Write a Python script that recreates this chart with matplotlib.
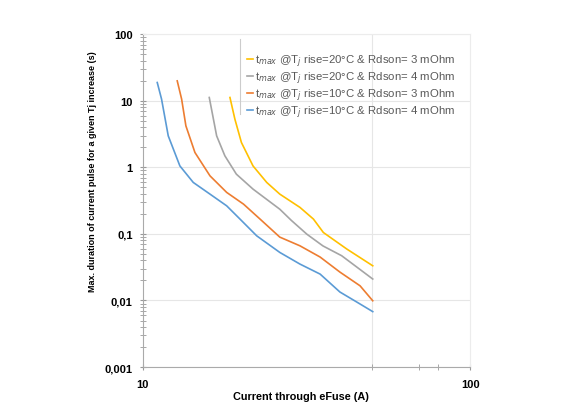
import matplotlib.pyplot as plt
from matplotlib.ticker import FixedLocator, LogLocator, NullFormatter

plt.rcParams['font.family'] = ['Liberation Sans', 'DejaVu Sans']

# current (A) / max pulse duration (s)
x_y20_3 = [18.45, 19.1, 20.0, 21.7, 23.9, 26.2, 30.2, 33.2, 35.6, 42.0, 50.4]
t_y20_3 = [11.2, 5.3, 2.36, 1.05, 0.593, 0.396, 0.25, 0.167, 0.105, 0.0592, 0.0332]

x_g20_4 = [15.95, 16.8, 17.8, 19.3, 21.7, 26.2, 28.4, 31.7, 35.5, 40.5, 50.4]
t_g20_4 = [11.2, 2.97, 1.49, 0.79, 0.471, 0.235, 0.16, 0.099, 0.066, 0.047, 0.021]

x_o10_3 = [12.73, 13.13, 13.53, 14.42, 16.03, 18.03, 20.3, 22.8, 26.2, 30.2, 34.8, 40.0, 46.1, 50.4]
t_o10_3 = [19.9, 10.6, 4.2, 1.67, 0.745, 0.42, 0.28, 0.167, 0.0895, 0.0662, 0.0449, 0.0267, 0.0166, 0.0099]

x_b10_4 = [11.06, 11.4, 11.95, 12.97, 14.25, 16.03, 18.03, 19.8, 22.27, 26.2, 30.2, 34.8, 40.0, 45.0, 50.4]
t_b10_4 = [18.8, 10.6, 2.97, 1.05, 0.593, 0.396, 0.264, 0.167, 0.0936, 0.0527, 0.0352, 0.0249, 0.0134, 0.0095, 0.0068]

labels = ['t$_{max}$ @T$_j$ rise=20°C & Rdson= 3 mOhm',
          't$_{max}$ @T$_j$ rise=20°C & Rdson= 4 mOhm',
          't$_{max}$ @T$_j$ rise=10°C & Rdson= 3 mOhm',
          't$_{max}$ @T$_j$ rise=10°C & Rdson= 4 mOhm']
colors = ['#FFC000', '#A5A5A5', '#ED7D31', '#5B9BD5']

fig = plt.figure(figsize=(5.74, 4.14), dpi=100)
ax = fig.add_axes([0.249, 0.111, 0.570, 0.804])

series = [(x_y20_3, t_y20_3), (x_g20_4, t_g20_4), (x_o10_3, t_o10_3), (x_b10_4, t_b10_4)]
for (xs, ts), lab, c in zip(series, labels, colors):
    ax.plot(xs, ts, color=c, lw=1.2, label=lab)

ax.set_xscale('log')
ax.set_yscale('log')
ax.set_xlim(10, 100)
ax.set_ylim(0.001, 100)

ax.set_yticks([0.001, 0.01, 0.1, 1, 10, 100])
ax.set_yticklabels(['0,001', '0,01', '0,1', '1', '10', '100'], fontweight='bold', fontsize=8)
ax.yaxis.set_minor_locator(LogLocator(base=10, subs=range(2, 10)))
ax.yaxis.set_minor_formatter(NullFormatter())
ax.set_xticks([10, 100])
ax.set_xticklabels(['10', '100'], fontweight='bold', fontsize=8)
ax.xaxis.set_minor_locator(FixedLocator([50, 70, 80]))
ax.xaxis.set_minor_formatter(NullFormatter())

ax.tick_params(which='both', direction='inout', color='#999999')
ax.tick_params(axis='y', pad=5)
ax.tick_params(axis='x', pad=6)
ax.tick_params(which='major', length=5)
ax.tick_params(which='minor', length=4)

ax.grid(axis='y', which='major', color='#e6e6e6', lw=0.8)
ax.axvline(50, color='#e6e6e6', lw=0.8, zorder=0)
for s in ['left', 'bottom']:
    ax.spines[s].set_color('#aaaaaa')
for s in ['right', 'top']:
    ax.spines[s].set_color('#ececec')

ax.set_xlabel('Current through eFuse (A)', fontweight='bold', fontsize=7.8)
ax.xaxis.set_label_coords(0.482, -0.072)
ax.set_ylabel('Max. duration of current pulse for a given Tj increase (s)',
              fontweight='bold', fontsize=6.5)
ax.yaxis.set_label_coords(-0.14, 0.59)

leg = ax.legend(loc='upper left', bbox_to_anchor=(0.318, 0.944), frameon=False,
                fontsize=8.2, handlelength=0.5, handletextpad=0.2, labelspacing=0.05,
                borderaxespad=0, borderpad=0)
for t in leg.get_texts():
    t.set_color('#595959')
ax.plot([0.297, 0.297], [0.76, 0.985], transform=ax.transAxes, color='#cccccc', lw=0.8)

fig.savefig('out.png', dpi=100)
